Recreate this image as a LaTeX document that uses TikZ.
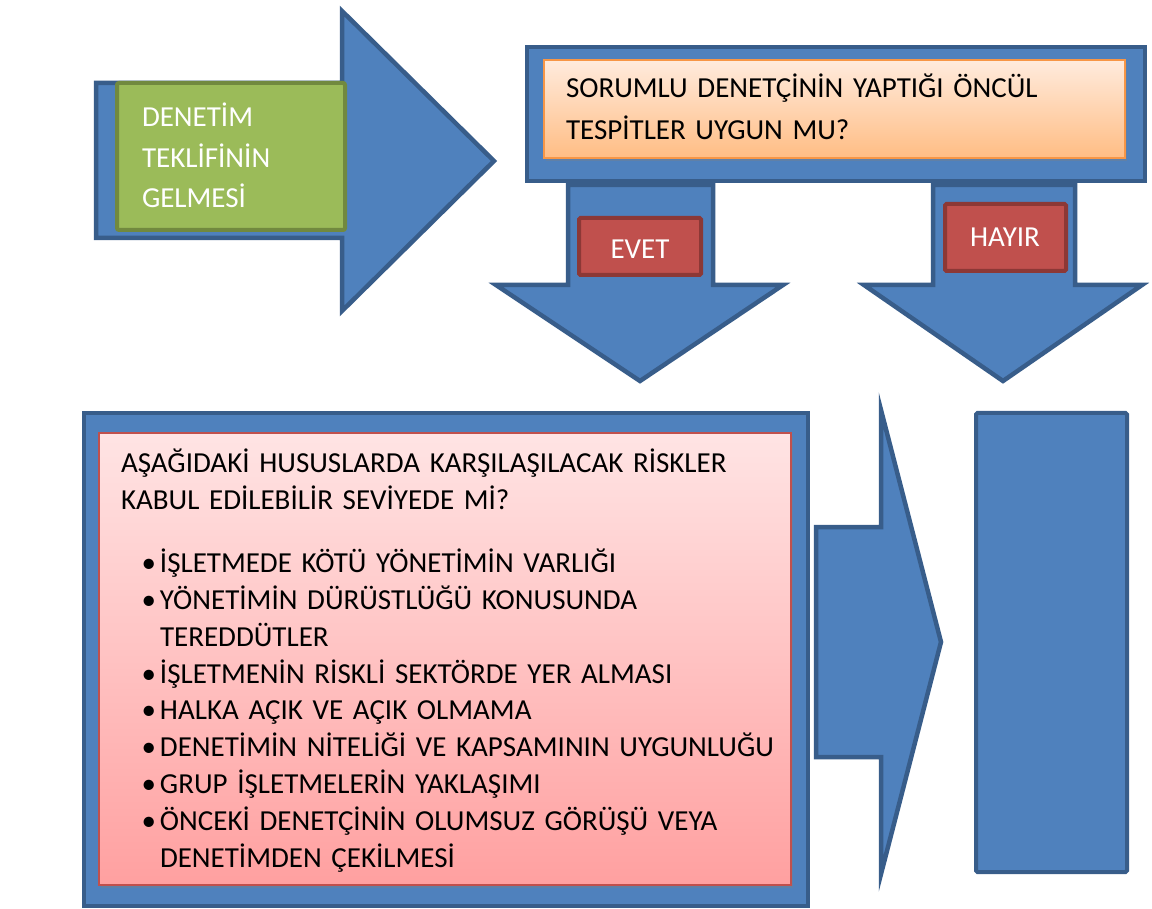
\documentclass[tikz,border=0pt]{standalone}
\usepackage{fontspec}
\setmainfont{Carlito}
\usetikzlibrary{shadows}
\definecolor{blfill}{HTML}{4F81BD}
\definecolor{bldraw}{HTML}{385D8A}
\definecolor{grfill}{HTML}{9BBB59}
\definecolor{grdraw}{HTML}{71893F}
\definecolor{rdfill}{HTML}{C0504D}
\definecolor{rddraw}{HTML}{8C3836}
\definecolor{ortop}{HTML}{FFEBDD}
\definecolor{orbot}{HTML}{FFBD84}
\definecolor{ordraw}{HTML}{F79646}
\definecolor{pktop}{HTML}{FFE4E4}
\definecolor{pkbot}{HTML}{FFA0A0}
\definecolor{pkdraw}{HTML}{C0504D}
\newcommand{\bulletitem}{\par\noindent\llap{\textbullet\hspace{4pt}}}
\begin{document}
\begin{tikzpicture}[x=1pt,y=-1pt,
  blueshape/.style={fill=blfill,draw=bldraw,line width=4.5pt,line join=miter},
  box/.style={rectangle,anchor=north west,inner sep=0pt,outer sep=0pt},
  labelbox/.style={box,fill=rdfill,draw=rddraw,line width=4pt,rounded corners=1.5pt},
  txt/.style={anchor=base west,inner sep=0pt,outer sep=0pt,align=left},
  lbl/.style={text=white,font=\fontsize{29}{34}\selectfont,anchor=base,inner sep=0pt}]
\useasboundingbox (0,0) rectangle (1152,909);
\fill[white] (0,0) rectangle (1152,909);

% first big arrow
\draw[blueshape] (96,83) -- (342,83) -- (342,11) -- (494,161) -- (342,311) -- (342,238) -- (96,238) -- cycle;
\node[box,fill=grfill,draw=grdraw,line width=4pt,rounded corners=2pt,minimum width=228pt,minimum height=147pt] (offer) at (117,83) {};
\node[txt,text width=200pt,text=white,font=\fontsize{29}{40.5}\selectfont] (offertext) at (142,127) {DENETİM\\TEKLİFİNİN\\GELMESİ};

% question frame
\node[box,blueshape,minimum width=618pt,minimum height=134pt] (qframe) at (527,47) {};
\node[box,draw=ordraw,line width=2pt,top color=ortop,bottom color=orbot,minimum width=581pt,minimum height=98pt,
  drop shadow={opacity=0.35,shadow xshift=2pt,shadow yshift=-3pt}] (question) at (544,60) {};
\node[txt,text width=540pt,font=\fontsize{29}{42}\selectfont] (questiontext) at (566,98) {SORUMLU DENETÇİNİN YAPTIĞI ÖNCÜL\\TESPİTLER UYGUN MU?};

% down arrows
\draw[blueshape] (568,185) -- (713,185) -- (713,285) -- (783,285) -- (640,381) -- (496,285) -- (568,285) -- cycle;
\draw[blueshape] (933,185) -- (1075,185) -- (1075,285) -- (1142,285) -- (1003,381) -- (864,285) -- (933,285) -- cycle;
\node[labelbox,minimum width=122pt,minimum height=57pt] (yes) at (579,218) {};
\node[lbl] (yestext) at (640,259) {EVET};
\node[labelbox,minimum width=121pt,minimum height=67pt] (no) at (945,204) {};
\node[lbl] (notext) at (1005,247) {HAYIR};

% risk frame
\node[box,blueshape,minimum width=724pt,minimum height=493pt] (rframe) at (84,413) {};
\node[box,draw=pkdraw,line width=2pt,top color=pktop,bottom color=pkbot,minimum width=692pt,minimum height=452pt,
  drop shadow={opacity=0.35,shadow xshift=2pt,shadow yshift=-3pt}] (risk) at (99,433) {};
\node[txt,text width=660pt,font=\fontsize{29}{37}\selectfont] (risktext) at (121,472) {%
AŞAĞIDAKİ HUSUSLARDA KARŞILAŞILACAK RİSKLER\\
KABUL EDİLEBİLİR SEVİYEDE Mİ?\par
\vspace{26pt}
\leftskip=39pt
\bulletitem İŞLETMEDE KÖTÜ YÖNETİMİN VARLIĞI
\bulletitem YÖNETİMİN DÜRÜSTLÜĞÜ KONUSUNDA\\TEREDDÜTLER
\bulletitem İŞLETMENİN RİSKLİ SEKTÖRDE YER ALMASI
\bulletitem HALKA AÇIK VE AÇIK OLMAMA
\bulletitem DENETİMİN NİTELİĞİ VE KAPSAMININ UYGUNLUĞU
\bulletitem GRUP İŞLETMELERİN YAKLAŞIMI
\bulletitem ÖNCEKİ DENETÇİNİN OLUMSUZ GÖRÜŞÜ VEYA\\DENETİMDEN ÇEKİLMESİ\par};

% right arrow and result box
\draw[blueshape] (816,527) -- (881,527) -- (881,410) -- (941,642) -- (881,874) -- (881,757) -- (816,757) -- cycle;
\node[box,blueshape,line width=4pt,rounded corners=1.5pt,minimum width=151pt,minimum height=459pt] (result) at (976,413) {};
\end{tikzpicture}
\end{document}
